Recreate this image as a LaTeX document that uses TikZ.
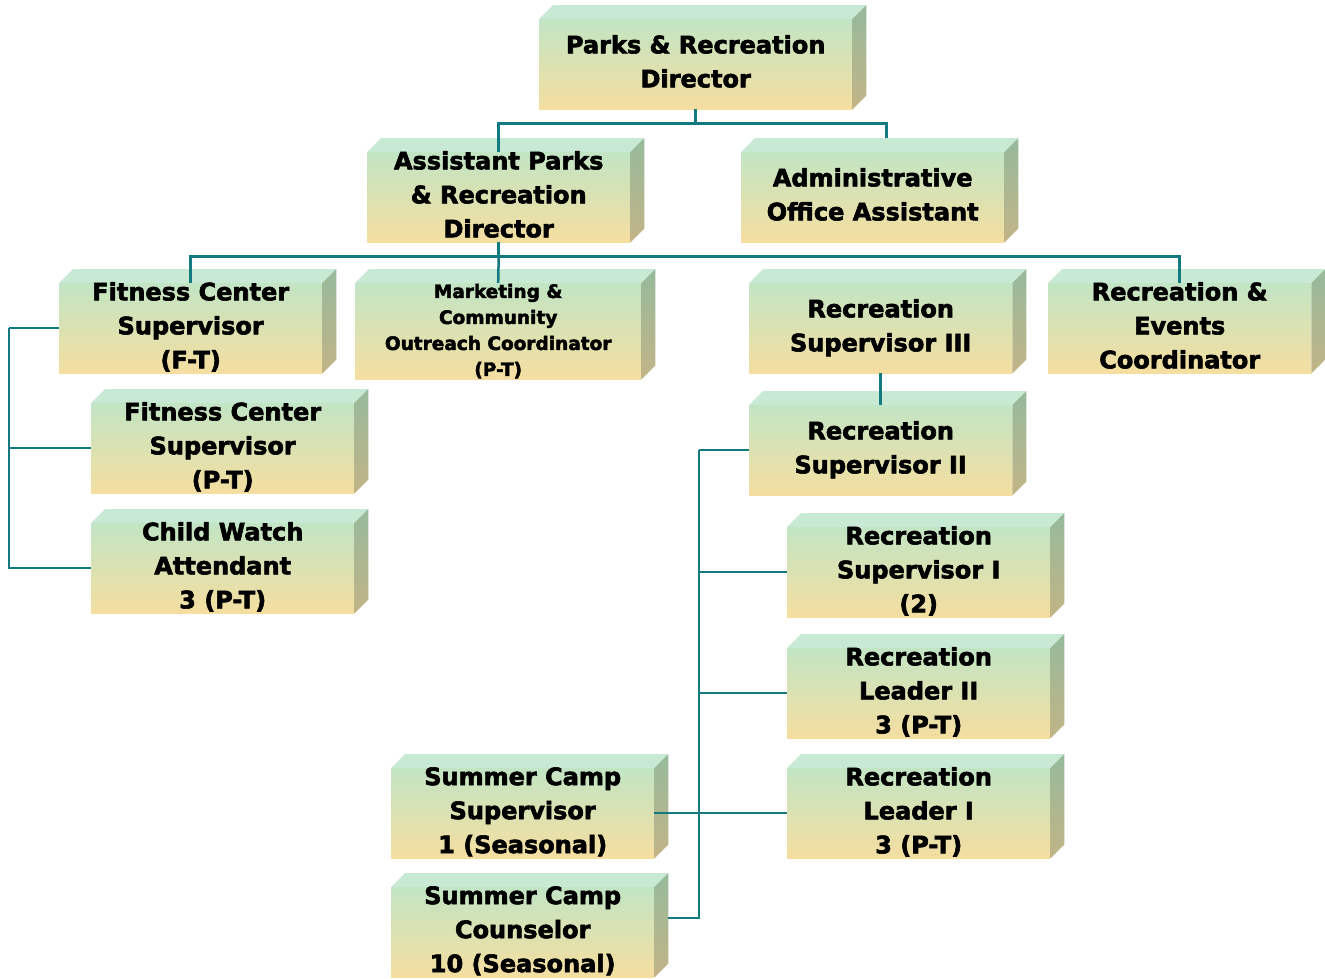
\documentclass[tikz,border=0pt]{standalone}
\usepackage{fontspec}
\setmainfont{DejaVu Sans}[BoldFeatures={FakeBold=2.5}]
\usetikzlibrary{calc}
\definecolor{ftop}{RGB}{194,229,196}
\definecolor{fbot}{RGB}{245,222,160}
\definecolor{ttop}{RGB}{200,234,212}
\definecolor{rtop}{RGB}{150,186,156}
\definecolor{rbot}{RGB}{194,180,134}
\definecolor{lnc}{RGB}{18,122,128}
\tikzset{
  orgbox/.style={shade, top color=ftop, bottom color=fbot, inner sep=0pt, anchor=north west,
    minimum width=263pt, minimum height=90pt},
  lbl/.style={inner sep=0pt, align=center, anchor=center,
    font=\fontsize{24}{34}\selectfont\bfseries, text depth=6pt},
  smalltext/.style={font=\fontsize{18.5}{26}\selectfont\bfseries, text depth=2.5pt},
  conn/.style={draw=lnc, line width=2.5pt},
  topface/.style={fill=ttop},
  sideface/.style={top color=rtop, bottom color=rbot}
}
\newcommand\boxsides[1]{%
  \fill[topface] (#1.north west) -- ++(14pt,14pt) -- ($(#1.north east)+(14pt,14pt)$) -- (#1.north east) -- cycle;
  \shade[sideface] (#1.north east) -- ++(14pt,14pt) -- ($(#1.south east)+(14pt,14pt)$) -- (#1.south east) -- cycle;
}
\begin{document}
\begin{tikzpicture}[x=1pt,y=-1pt]
\useasboundingbox (0,0) rectangle (1325,978);
% boxes
\node[orgbox, minimum width=313pt] (dir) at (539,19) {};
\node[orgbox] (asst) at (367,152) {};
\node[orgbox] (admin) at (741,152) {};
\node[orgbox] (fit1) at (59,283) {};
\node[orgbox, minimum width=286pt, minimum height=96pt] (mkt) at (355,283) {};
\node[orgbox] (rs3) at (749,283) {};
\node[orgbox] (rev) at (1048,283) {};
\node[orgbox] (fit2) at (91,403) {};
\node[orgbox] (cw) at (91,523) {};
\node[orgbox] (rs2) at (749,405) {};
\node[orgbox] (rs1) at (787,527) {};
\node[orgbox] (rl2) at (787,648) {};
\node[orgbox] (rl1) at (787,768) {};
\node[orgbox] (scs) at (391,768) {};
\node[orgbox] (scc) at (391,887) {};
\foreach \b in {dir,asst,admin,fit1,mkt,rs3,rev,fit2,cw,rs2,rs1,rl2,rl1,scs,scc}{\boxsides{\b}}
% texts
\node[lbl] (dir-t) at (dir.center) {Parks \& Recreation\\Director};
\node[lbl] (asst-t) at (asst.center) {Assistant Parks\\\& Recreation\\Director};
\node[lbl] (admin-t) at (admin.center) {Administrative\\Office Assistant};
\node[lbl] (fit1-t) at (fit1.center) {Fitness Center\\Supervisor\\(F-T)};
\node[lbl, smalltext] (mkt-t) at (mkt.center) {Marketing \&\\Community\\Outreach Coordinator\\(P-T)};
\node[lbl] (rs3-t) at (rs3.center) {Recreation\\Supervisor III};
\node[lbl] (rev-t) at (rev.center) {Recreation \&\\Events\\Coordinator};
\node[lbl] (fit2-t) at (fit2.center) {Fitness Center\\Supervisor\\(P-T)};
\node[lbl] (cw-t) at (cw.center) {Child Watch\\Attendant\\3 (P-T)};
\node[lbl] (rs2-t) at (rs2.center) {Recreation\\Supervisor II};
\node[lbl] (rs1-t) at (rs1.center) {Recreation\\Supervisor I\\(2)};
\node[lbl] (rl2-t) at (rl2.center) {Recreation\\Leader II\\3 (P-T)};
\node[lbl] (rl1-t) at (rl1.center) {Recreation\\Leader I\\3 (P-T)};
\node[lbl] (scs-t) at (scs.center) {Summer Camp\\Supervisor\\1 (Seasonal)};
\node[lbl] (scc-t) at (scc.center) {Summer Camp\\Counselor\\10 (Seasonal)};
% connectors
\draw[conn] (dir.south) -- ++(0,14) coordinate (j1);
\draw[conn] (asst.north) |- (j1) -| ($(admin.north)+(14pt,14pt)$);
\draw[conn] (asst.south) -- ++(0,14) coordinate (j2);
\draw[conn] (fit1.north) |- (j2) -| (rev.north);
\draw[conn] (j2) -- (mkt.north);
\draw[conn] (rs3.south) -- (rs2.north);
\draw[conn] (rs2.west) -- ++(-50,0) coordinate (j3);
\draw[conn] (j3) |- ($(scc.north east)+(14pt,-31pt)$);
\draw[conn] (rs1.west) -- (rs1.west -| j3);
\draw[conn] (rl2.west) -- (rl2.west -| j3);
\draw[conn] (scs.east) -- (rl1.west);
\draw[conn] (fit1.west) -- ++(-50,0) coordinate (j4);
\draw[conn] (j4) |- (cw.west);
\draw[conn] (fit2.west) -- (fit2.west -| j4);
\end{tikzpicture}
\end{document}
